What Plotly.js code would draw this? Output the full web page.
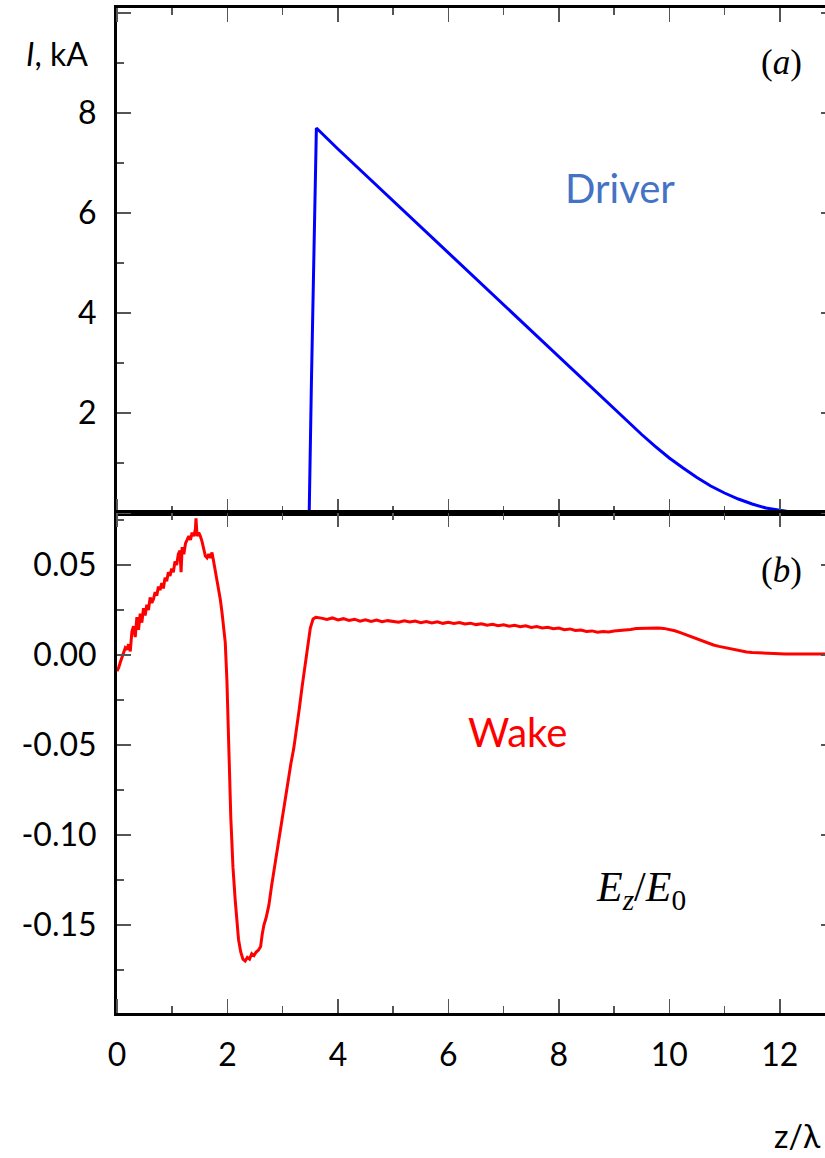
<!DOCTYPE html>
<html><head><meta charset="utf-8">
<script src="https://cdn.plot.ly/plotly-3.0.1.min.js"></script>
<style>html,body{margin:0;padding:0;overflow:hidden;background:#fff}#chart{width:840px;height:1158px}</style>
</head><body><div id="chart"></div>
<script>
// Driver current I (kA) vs z/lambda
const driverZ = [0, 3.48, 3.52, 3.56, 3.61, 4.0, 4.5, 5.0, 5.5, 6.0, 6.5, 7.0, 7.5, 8.0, 8.5, 9.0, 9.25, 9.5, 9.75, 10.0, 10.25, 10.5, 10.75, 11.0, 11.25, 11.5, 11.75, 12.0, 12.2, 12.4, 13.0];
const driverI = [0, 0, 2.6, 5.2, 7.7, 7.28, 6.76, 6.24, 5.72, 5.2, 4.68, 4.16, 3.64, 3.12, 2.6, 2.08, 1.82, 1.57, 1.33, 1.1, 0.9, 0.71, 0.54, 0.4, 0.28, 0.18, 0.1, 0.05, 0.02, 0.0, 0.0];

// Wake field Ez/E0 vs z/lambda
const wakeZ = [0.00,0.03,0.06,0.09,0.12,0.15,0.18,0.21,0.24,0.27,0.30,0.33,0.36,0.39,0.42,0.45,0.48,0.51,0.54,0.57,
0.60,0.63,0.66,0.69,0.72,0.75,0.78,0.81,0.84,0.87,0.90,0.93,0.96,0.99,1.02,1.05,1.08,1.11,1.14,1.16,
1.18,1.21,1.24,1.27,1.30,1.33,1.36,1.39,1.42,1.43,1.45,1.48,1.51,1.54,1.57,1.60,1.63,1.66,1.69,1.72,
1.75,1.78,1.81,1.84,1.87,1.90,1.93,1.96,1.99,2.01,2.04,2.06,2.08,2.10,2.14,2.17,2.20,2.24,2.28,2.32,
2.36,2.40,2.44,2.48,2.52,2.56,2.60,2.63,2.66,2.70,2.75,2.80,2.85,2.90,2.95,3.00,3.05,3.10,3.15,3.20,
3.25,3.30,3.35,3.40,3.45,3.50,3.55,3.60,3.70,3.80,3.90,4.00,4.10,4.20,4.30,4.40,4.50,4.60,4.70,4.80,
4.90,5.00,5.10,5.20,5.30,5.40,5.50,5.60,5.70,5.80,5.90,6.00,6.10,6.20,6.30,6.40,6.50,6.60,6.70,6.80,
6.90,7.00,7.10,7.20,7.30,7.40,7.50,7.60,7.70,7.80,7.90,8.00,8.10,8.20,8.30,8.40,8.50,8.60,8.70,8.80,
8.90,9.00,9.10,9.20,9.30,9.40,9.50,9.60,9.70,9.80,9.90,10.00,10.10,10.20,10.30,10.40,10.50,10.60,10.70,10.80,
10.90,11.00,11.10,11.20,11.30,11.40,11.50,11.70,11.90,12.10,12.40,12.70,13.00];
const wakeE = [-0.009,-0.007,-0.004,-0.001,0.002,0.004,0.003,0.006,0.002,0.013,0.016,0.010,0.021,0.014,0.023,0.018,0.026,0.022,0.028,0.025,
0.032,0.029,0.031,0.035,0.033,0.038,0.036,0.040,0.037,0.043,0.041,0.046,0.044,0.048,0.046,0.052,0.050,0.056,0.058,0.046,
0.060,0.056,0.062,0.064,0.066,0.064,0.068,0.066,0.070,0.076,0.066,0.068,0.066,0.063,0.058,0.055,0.054,0.056,0.054,0.057,
0.052,0.047,0.042,0.036,0.031,0.024,0.016,0.007,-0.014,-0.043,-0.068,-0.090,-0.105,-0.118,-0.136,-0.148,-0.158,-0.165,-0.169,-0.170,
-0.168,-0.169,-0.166,-0.167,-0.165,-0.164,-0.162,-0.155,-0.150,-0.146,-0.139,-0.128,-0.118,-0.108,-0.098,-0.088,-0.078,-0.068,-0.060,-0.052,
-0.042,-0.030,-0.018,-0.006,0.006,0.015,0.020,0.021,0.0205,0.0198,0.0206,0.0195,0.0202,0.0192,0.0199,0.0188,0.0196,0.0186,0.0194,0.0185,
0.0191,0.0188,0.0182,0.0190,0.0183,0.0189,0.0180,0.0186,0.0178,0.0185,0.0176,0.0182,0.0175,0.0180,0.0172,0.0177,0.0169,0.0174,0.0166,0.0171,
0.0163,0.0168,0.0160,0.0165,0.0157,0.0162,0.0153,0.0158,0.0150,0.0154,0.0146,0.0150,0.0141,0.0145,0.0136,0.0139,0.0131,0.0134,0.0127,0.0130,
0.0128,0.0133,0.0135,0.0141,0.0142,0.0147,0.0148,0.0152,0.0151,0.0150,0.0148,0.0142,0.0135,0.0124,0.0113,0.0101,0.0088,0.0076,0.0065,0.0056,
0.0048,0.0041,0.0034,0.0027,0.0021,0.0017,0.0014,0.0010,0.0007,0.0006,0.0005,0.0005,0.0005];

const xTickVals = [0, 2, 4, 6, 8, 10, 12];
const xTickText = ['0', '2', '4', '6', '8', '10', '12'];
const iTickVals = [2, 4, 6, 8];
const iTickText = ['2', '4', '6', '8'];
const eTickVals = [0.05, 0, -0.05, -0.10, -0.15];
const eTickText = ['0.05', '0.00', '-0.05', '-0.10', '-0.15'];

const X_RANGE = [0, 13];
const I_RANGE = [0, 10.1];
const E_RANGE = [-0.1989, 0.0789];
const tickFont = {family: 'Lato, sans-serif', size: 32, color: '#000'};
const TICK_COLOR = '#555';

// axes that carry the frame and the short (minor) tick marks
function frameAxis(extra, minorDt) {
  return Object.assign({
    showline: true, linecolor: '#000', linewidth: 3, mirror: 'ticks',
    ticks: 'inside', ticklen: 14, tickwidth: 1.5, tickcolor: TICK_COLOR,
    showgrid: false, zeroline: false, showticklabels: false,
    minor: {dtick: minorDt, tick0: 0, ticks: 'inside', ticklen: 7, tickwidth: 1.5, tickcolor: TICK_COLOR}
  }, extra);
}
// overlay axes that carry the tick labels and the long (major) tick marks
function labelAxis(extra, majorDt) {
  return Object.assign({
    showline: false, showgrid: false, zeroline: false, ticks: 'outside', mirror: 'ticks',
    tickcolor: 'rgba(0,0,0,0)', tickfont: tickFont, tickmode: 'array',
    minor: {dtick: majorDt, tick0: 0, ticks: 'inside', ticklen: 14, tickwidth: 1.5, tickcolor: TICK_COLOR}
  }, extra);
}

const traces = [
  {x: driverZ, y: driverI, xaxis: 'x', yaxis: 'y', mode: 'lines', line: {color: '#0000ff', width: 3}},
  {x: wakeZ, y: wakeE, xaxis: 'x2', yaxis: 'y2', mode: 'lines', line: {color: '#ff0000', width: 3}},
  {x: [], y: [], xaxis: 'x', yaxis: 'y3', mode: 'lines'},
  {x: [], y: [], xaxis: 'x3', yaxis: 'y4', mode: 'lines'},
  {x: [], y: [], xaxis: 'x4', yaxis: 'y3', mode: 'lines'}
];

const layout = {
  width: 840, height: 1158,
  margin: {l: 117, r: 5, t: 8, b: 145},
  paper_bgcolor: '#fff', plot_bgcolor: '#fff',
  showlegend: false,
  xaxis: frameAxis({domain: [0, 1], range: X_RANGE, anchor: 'y', tickmode: 'array', tickvals: xTickVals}, 1),
  yaxis: frameAxis({domain: [0.4975, 1], range: I_RANGE, anchor: 'x', tickmode: 'array', tickvals: iTickVals}, 1),
  xaxis2: frameAxis({domain: [0, 1], range: X_RANGE, anchor: 'y2', tickmode: 'array', tickvals: xTickVals}, 1),
  yaxis2: frameAxis({domain: [0, 0.4975], range: E_RANGE, anchor: 'x2', tickmode: 'array', tickvals: eTickVals}, 0.025),
  yaxis3: labelAxis({overlaying: 'y', anchor: 'x', side: 'left', range: I_RANGE, tickvals: iTickVals, ticktext: iTickText, ticklen: 13}, 2),
  yaxis4: labelAxis({overlaying: 'y2', anchor: 'x3', side: 'left', range: E_RANGE, tickvals: eTickVals, ticktext: eTickText, ticklen: 13}, 0.05),
  xaxis3: labelAxis({overlaying: 'x2', anchor: 'y2', side: 'bottom', range: X_RANGE, tickvals: xTickVals, ticktext: xTickText, ticklen: 14}, 2),
  xaxis4: labelAxis({overlaying: 'x', anchor: 'y', side: 'bottom', range: X_RANGE, tickvals: xTickVals, ticklen: 1, showticklabels: false}, 2),
  annotations: [
    {text: '<i>I</i>, kA', xref: 'paper', yref: 'paper', x: -0.0376, y: 0.955, xanchor: 'right', yanchor: 'middle',
     showarrow: false, font: {family: 'Lato, sans-serif', size: 32, color: '#000'}},
    {text: '(<i>a</i>)', xref: 'x', yref: 'y', x: 12.04, y: 9.02, xanchor: 'center', yanchor: 'middle',
     showarrow: false, font: {family: 'Liberation Serif, serif', size: 35, color: '#000'}},
    {text: 'Driver', xref: 'x', yref: 'y', x: 9.11, y: 6.5, xanchor: 'center', yanchor: 'middle',
     showarrow: false, font: {family: 'Lato, sans-serif', size: 40, color: '#4472c4'}},
    {text: '(<i>b</i>)', xref: 'x2', yref: 'y2', x: 12.04, y: 0.0472, xanchor: 'center', yanchor: 'middle',
     showarrow: false, font: {family: 'Liberation Serif, serif', size: 35, color: '#000'}},
    {text: 'Wake', xref: 'x2', yref: 'y2', x: 7.26, y: -0.0428, xanchor: 'center', yanchor: 'middle',
     showarrow: false, font: {family: 'Lato, sans-serif', size: 40, color: '#ff0000'}},
    {text: '<i>E</i><sub><i>z</i></sub>/<i>E</i><sub>0</sub>', xref: 'x2', yref: 'y2', x: 9.49, y: -0.1306,
     xanchor: 'center', yanchor: 'middle', showarrow: false,
     font: {family: 'Liberation Serif, serif', size: 42, color: '#000'}},
    {text: 'z/λ', xref: 'paper', yref: 'paper', x: 0.912, y: -0.1214, xanchor: 'left', yanchor: 'middle',
     showarrow: false, font: {family: 'Lato, sans-serif', size: 32, color: '#000'}}
  ]
};

Plotly.newPlot('chart', traces, layout, {displayModeBar: false, staticPlot: true});
</script>
</body></html>
